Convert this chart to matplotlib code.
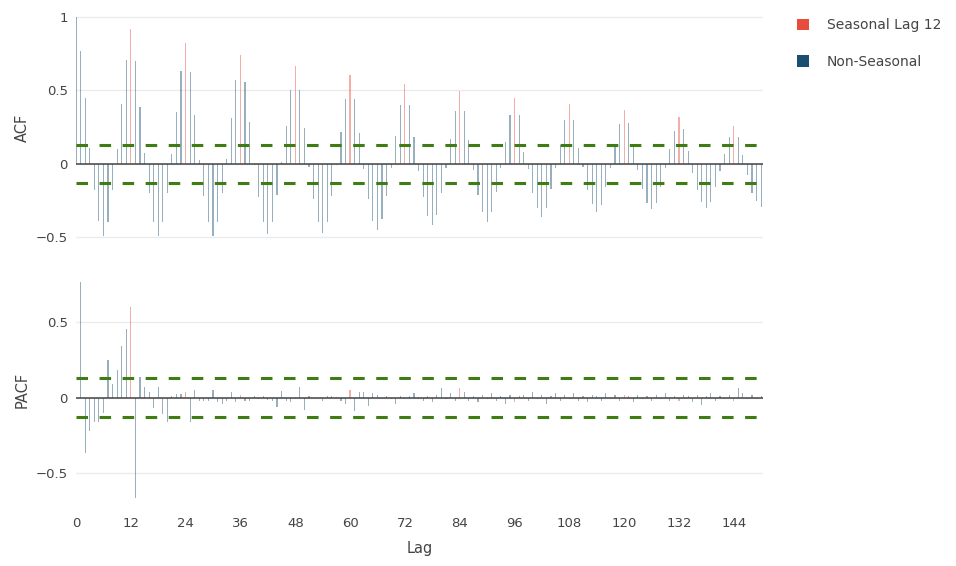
import numpy as np
import matplotlib
matplotlib.use("Agg")
import matplotlib.pyplot as plt
from matplotlib.patches import Patch

# ACF values, lags 0..150
acf_vals = [
    1.0, 0.77, 0.45, 0.11, -0.18, -0.385, -0.49, -0.395, -0.18, 0.10, 0.41, 0.71,
    0.916, 0.70, 0.39, 0.077, -0.195, -0.395, -0.49, -0.395, -0.195, 0.068, 0.354, 0.633,
    0.82, 0.626, 0.336, 0.03, -0.22, -0.395, -0.49, -0.395, -0.195, 0.036, 0.31, 0.57,
    0.74, 0.558, 0.286, -0.01, -0.227, -0.395, -0.478, -0.395, -0.213, 0.01, 0.26, 0.50,
    0.667, 0.50, 0.243, -0.02, -0.24, -0.395, -0.47, -0.395, -0.22, -0.01, 0.22, 0.44,
    0.605, 0.444, 0.21, -0.036, -0.24, -0.385, -0.45, -0.376, -0.22, -0.027, 0.19, 0.40,
    0.544, 0.40, 0.18, -0.05, -0.227, -0.354, -0.417, -0.35, -0.2, -0.03, 0.17, 0.363,
    0.494, 0.363, 0.165, -0.04, -0.213, -0.327, -0.395, -0.327, -0.19, -0.03, 0.15, 0.33,
    0.45, 0.33, 0.084, -0.036, -0.2, -0.30, -0.358, -0.30, -0.17, -0.03, 0.13, 0.30,
    0.41, 0.30, 0.107, -0.02, -0.18, -0.27, -0.33, -0.28, -0.16, -0.03, 0.125, 0.27,
    0.37, 0.277, 0.118, -0.04, -0.17, -0.263, -0.308, -0.263, -0.154, -0.03, 0.10, 0.227,
    0.317, 0.236, 0.086, -0.06, -0.177, -0.26, -0.30, -0.26, -0.16, -0.045, 0.068, 0.18,
    0.26, 0.18, 0.06, -0.075, -0.195, -0.25, -0.29,
]

# PACF values, lags 1..150
pacf_vals = [
    0.77, -0.37, -0.224, -0.165, -0.165, -0.10, 0.25, 0.092, 0.184, 0.346, 0.456, 0.603,
    -0.673, 0.134, 0.068, 0.035, -0.072, 0.068, -0.107, -0.162, 0.011, 0.024, 0.024, 0.035,
    -0.165, 0.05, -0.02, -0.02, -0.02, 0.05, -0.03, -0.042, -0.024, 0.04, -0.03, 0.018,
    -0.02, -0.02, 0.011, -0.011, 0.011, -0.015, -0.026, -0.064, 0.042, -0.02, -0.03, -0.011,
    0.072, -0.08, 0.011, -0.005, -0.005, -0.02, 0.01, 0.01, 0.003, -0.02, -0.046, 0.05,
    -0.09, 0.037, 0.037, -0.055, 0.028, 0.018, -0.005, 0.009, -0.007, -0.046, 0.011, -0.011,
    0.007, 0.028, -0.01, -0.02, 0.01, -0.03, 0.02, 0.06, -0.01, 0.03, -0.02, 0.06,
    0.04, -0.02, 0.01, -0.03, 0.02, -0.01, 0.03, -0.02, 0.01, -0.04, 0.02, -0.03,
    0.01, 0.02, -0.02, 0.04, -0.01, 0.02, -0.04, 0.01, 0.03, -0.02, 0.02, -0.01,
    0.03, -0.02, 0.01, -0.03, 0.02, 0.01, -0.02, 0.03, -0.01, 0.02, -0.02, 0.02,
    0.01, -0.03, 0.02, -0.01, 0.01, -0.02, 0.02, -0.01, 0.03, -0.02, 0.01, -0.02,
    0.02, 0.01, -0.03, 0.02, -0.05, 0.01, 0.03, -0.02, 0.01, -0.01, 0.02, -0.02,
    0.06, 0.03, -0.01, 0.02, -0.01, 0.01,
]

acf_lags = np.arange(len(acf_vals))
pacf_lags = np.arange(1, len(pacf_vals) + 1)

season = 12
conf = 0.129   # 1.96 / sqrt(n)
xticks = list(range(0, 145, 12))

red = "#e74c3c"
blue = "#1b4f72"
green = "#3f7d14"

plt.rcParams["font.family"] = "DejaVu Sans"
plt.rcParams["lines.scale_dashes"] = False

fig = plt.figure(figsize=(9.56, 5.66), dpi=100)
W, H = 956, 566


def px_axes(left, top, right, bottom):
    return fig.add_axes([left / W, 1 - bottom / H, (right - left) / W, (bottom - top) / H])


ax1 = px_axes(76, 8, 763, 247)
ax2 = px_axes(76, 271, 763, 509)


def draw(ax, lags, vals, ylim, yticks, ylabels, label):
    colors = [red if (l % season == 0 and l > 0) else blue for l in lags]
    ax.bar(lags, vals, width=0.25, color=colors, alpha=0.45, linewidth=0, zorder=2)
    ax.axhline(0, color="#444444", linewidth=1.1, zorder=3)
    for c in (conf, -conf):
        ax.axhline(c, color=green, linewidth=2.2, linestyle=(0, (8.3, 8.3)), zorder=4)
    ax.set_xlim(0.05, 150.4)
    ax.set_ylim(*ylim)
    ax.set_yticks(yticks)
    ax.set_yticklabels(ylabels)
    ax.set_xticks(xticks)
    ax.grid(axis="y", color="#ebebeb", linewidth=1, zorder=0)
    ax.set_axisbelow(True)
    for s in ax.spines.values():
        s.set_visible(False)
    ax.tick_params(length=0, labelsize=9.5, labelcolor="#444444", pad=6)
    ax.set_ylabel(label, fontsize=10.5, color="#444444", labelpad=4)


draw(ax1, acf_lags, acf_vals, (-0.565, 1.061), [-0.5, 0, 0.5, 1],
     ["\u22120.5", "0", "0.5", "1"], "ACF")
draw(ax2, pacf_lags, pacf_vals, (-0.743, 0.843), [-0.5, 0, 0.5],
     ["\u22120.5", "0", "0.5"], "PACF")
ax1.set_xticklabels([])
ax2.set_xlabel("Lag", fontsize=10.5, color="#444444", labelpad=8)

handles = [Patch(facecolor=red, label="Seasonal Lag 12"),
           Patch(facecolor=blue, label="Non-Seasonal")]
fig.legend(handles=handles, loc="upper left", bbox_to_anchor=(784 / W, 1 - 6 / H),
           frameon=False, fontsize=10, handlelength=0.9, handleheight=0.9,
           labelspacing=1.6, handletextpad=1.3, labelcolor="#444444")

fig.savefig("out.png", dpi=100)
